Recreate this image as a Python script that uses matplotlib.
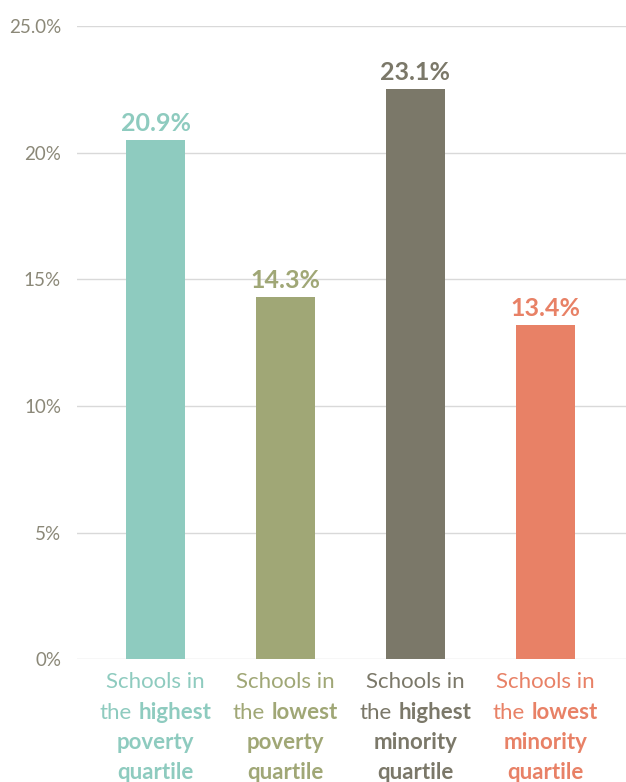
import matplotlib
matplotlib.use("Agg")
import matplotlib.pyplot as plt
from matplotlib.offsetbox import TextArea, HPacker, AnnotationBbox

# ── data ──────────────────────────────────────────────────────────────────
bar_heights = [20.5, 14.3, 22.5, 13.2]          # as drawn
value_labels = ["20.9%", "14.3%", "23.1%", "13.4%"]
group_word = ["highest", "lowest", "highest", "lowest"]
group_kind = ["poverty", "poverty", "minority", "minority"]
colors = ["#8ECBBF", "#A0A776", "#7B7869", "#E88166"]
tick_vals = [0, 5, 10, 15, 20, 25]
tick_text = ["0%", "5%", "10%", "15%", "20%", "25.0%"]

FONT = "Lato"
TICK_COLOR = "#8B8878"

fig = plt.figure(figsize=(6.26, 7.82), dpi=100)
ax = fig.add_axes([0.123, 0.157, 0.877, 0.8095])

x = range(len(bar_heights))
ax.bar(x, bar_heights, width=0.455, color=colors, zorder=2)

ax.set_ylim(0, 25)
ax.set_xlim(-0.604, 3.62)
ax.set_yticks(tick_vals)
ax.set_yticklabels(tick_text, fontfamily=FONT, fontweight="normal",
                   fontsize=13.5, color=TICK_COLOR)
ax.tick_params(axis="y", length=0, pad=11.5)
ax.set_xticks([])
ax.grid(axis="y", color="#D9D9D9", lw=1, zorder=0)
for s in ax.spines.values():
    s.set_visible(False)

# value labels above bars
for i, (h, lab, c) in enumerate(zip(bar_heights, value_labels, colors)):
    ax.annotate(lab, (i, h), xytext=(0, 5), textcoords="offset pixels",
                ha="center", va="bottom", fontfamily=FONT,
                fontweight="bold", fontsize=18, color=c)

# category labels (mixed weights)
def piece(s, c, bold):
    return TextArea(s, textprops=dict(fontfamily=FONT, fontsize=16, color=c,
                                      fontweight="bold" if bold else "normal"))

for i, c in enumerate(colors):
    lines = [
        [piece("Schools in", c, False)],
        [piece("the", c, False), piece(group_word[i], c, True)],
        [piece(group_kind[i], c, True)],
        [piece("quartile", c, True)],
    ]
    for k, parts in enumerate(lines):
        box = HPacker(children=parts, pad=0, sep=5, align="baseline")
        ab = AnnotationBbox(box, (i, 0), xycoords=("data", "axes fraction"),
                            xybox=(0, -23 - 30 * k), boxcoords="offset pixels",
                            box_alignment=(0.5, 0.5), frameon=False, pad=0)
        ax.add_artist(ab)

fig.savefig("out.png", dpi=100)
